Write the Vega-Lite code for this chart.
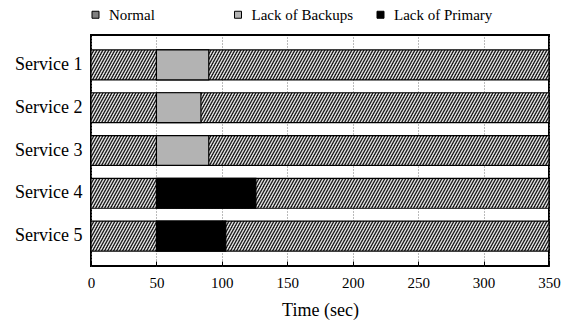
{
 "$schema": "https://vega.github.io/schema/vega-lite/v6.json",
 "width": 458,
 "height": 231,
 "autosize": {"type": "none"},
 "padding": {"left": 91, "top": 35, "right": 21, "bottom": 56},
 "background": "#ffffff",
 "config": {
  "font": "Liberation Serif",
  "view": {"stroke": "#000000", "strokeWidth": 2},
  "axis": {"labelColor": "#000000", "titleColor": "#000000", "labelFont": "Liberation Serif", "titleFont": "Liberation Serif", "titleFontWeight": "normal"},
  "legend": {"labelColor": "#000000", "labelFont": "Liberation Serif"}
 },
 "datasets": {
  "timeline": [
   {"service": "Service 1", "start": 0, "end": 350},
   {"service": "Service 2", "start": 0, "end": 350},
   {"service": "Service 3", "start": 0, "end": 350},
   {"service": "Service 4", "start": 0, "end": 350},
   {"service": "Service 5", "start": 0, "end": 350}
  ],
  "events": [
   {"service": "Service 1", "state": "Lack of Backups", "start": 50, "end": 90},
   {"service": "Service 2", "state": "Lack of Backups", "start": 50, "end": 84},
   {"service": "Service 3", "state": "Lack of Backups", "start": 50, "end": 90},
   {"service": "Service 4", "state": "Lack of Primary", "start": 50, "end": 126},
   {"service": "Service 5", "state": "Lack of Primary", "start": 50, "end": 103}
  ]
 },
 "layer": [
  {
   "data": {"name": "timeline"},
   "mark": {
    "type": "bar",
    "stroke": "#000000",
    "strokeWidth": 1.2,
    "fill": {
     "gradient": "linear", "x1": 0, "y1": 0, "x2": 1.0903, "y2": 0.0392,
     "stops": [
{"offset":0.000,"color":"#000"},{"offset":0.003,"color":"#fff"},{"offset":0.006,"color":"#000"},{"offset":0.009,"color":"#fff"},{"offset":0.012,"color":"#000"},{"offset":0.015,"color":"#fff"},{"offset":0.018,"color":"#000"},{"offset":0.021,"color":"#fff"},{"offset":0.024,"color":"#000"},{"offset":0.027,"color":"#fff"},
{"offset":0.030,"color":"#000"},{"offset":0.033,"color":"#fff"},{"offset":0.036,"color":"#000"},{"offset":0.039,"color":"#fff"},{"offset":0.042,"color":"#000"},{"offset":0.045,"color":"#fff"},{"offset":0.048,"color":"#000"},{"offset":0.051,"color":"#fff"},{"offset":0.054,"color":"#000"},{"offset":0.057,"color":"#fff"},
{"offset":0.060,"color":"#000"},{"offset":0.063,"color":"#fff"},{"offset":0.066,"color":"#000"},{"offset":0.069,"color":"#fff"},{"offset":0.072,"color":"#000"},{"offset":0.075,"color":"#fff"},{"offset":0.078,"color":"#000"},{"offset":0.081,"color":"#fff"},{"offset":0.084,"color":"#000"},{"offset":0.087,"color":"#fff"},
{"offset":0.090,"color":"#000"},{"offset":0.093,"color":"#fff"},{"offset":0.096,"color":"#000"},{"offset":0.099,"color":"#fff"},{"offset":0.102,"color":"#000"},{"offset":0.105,"color":"#fff"},{"offset":0.108,"color":"#000"},{"offset":0.111,"color":"#fff"},{"offset":0.114,"color":"#000"},{"offset":0.117,"color":"#fff"},
{"offset":0.120,"color":"#000"},{"offset":0.123,"color":"#fff"},{"offset":0.126,"color":"#000"},{"offset":0.129,"color":"#fff"},{"offset":0.132,"color":"#000"},{"offset":0.135,"color":"#fff"},{"offset":0.138,"color":"#000"},{"offset":0.141,"color":"#fff"},{"offset":0.144,"color":"#000"},{"offset":0.147,"color":"#fff"},
{"offset":0.150,"color":"#000"},{"offset":0.153,"color":"#fff"},{"offset":0.156,"color":"#000"},{"offset":0.159,"color":"#fff"},{"offset":0.162,"color":"#000"},{"offset":0.165,"color":"#fff"},{"offset":0.168,"color":"#000"},{"offset":0.171,"color":"#fff"},{"offset":0.174,"color":"#000"},{"offset":0.177,"color":"#fff"},
{"offset":0.180,"color":"#000"},{"offset":0.183,"color":"#fff"},{"offset":0.186,"color":"#000"},{"offset":0.189,"color":"#fff"},{"offset":0.192,"color":"#000"},{"offset":0.195,"color":"#fff"},{"offset":0.198,"color":"#000"},{"offset":0.201,"color":"#fff"},{"offset":0.204,"color":"#000"},{"offset":0.207,"color":"#fff"},
{"offset":0.210,"color":"#000"},{"offset":0.213,"color":"#fff"},{"offset":0.216,"color":"#000"},{"offset":0.219,"color":"#fff"},{"offset":0.222,"color":"#000"},{"offset":0.225,"color":"#fff"},{"offset":0.228,"color":"#000"},{"offset":0.231,"color":"#fff"},{"offset":0.234,"color":"#000"},{"offset":0.237,"color":"#fff"},
{"offset":0.240,"color":"#000"},{"offset":0.243,"color":"#fff"},{"offset":0.246,"color":"#000"},{"offset":0.249,"color":"#fff"},{"offset":0.252,"color":"#000"},{"offset":0.255,"color":"#fff"},{"offset":0.258,"color":"#000"},{"offset":0.261,"color":"#fff"},{"offset":0.264,"color":"#000"},{"offset":0.267,"color":"#fff"},
{"offset":0.270,"color":"#000"},{"offset":0.273,"color":"#fff"},{"offset":0.276,"color":"#000"},{"offset":0.279,"color":"#fff"},{"offset":0.282,"color":"#000"},{"offset":0.285,"color":"#fff"},{"offset":0.288,"color":"#000"},{"offset":0.291,"color":"#fff"},{"offset":0.294,"color":"#000"},{"offset":0.297,"color":"#fff"},
{"offset":0.300,"color":"#000"},{"offset":0.303,"color":"#fff"},{"offset":0.306,"color":"#000"},{"offset":0.309,"color":"#fff"},{"offset":0.312,"color":"#000"},{"offset":0.315,"color":"#fff"},{"offset":0.318,"color":"#000"},{"offset":0.321,"color":"#fff"},{"offset":0.324,"color":"#000"},{"offset":0.327,"color":"#fff"},
{"offset":0.330,"color":"#000"},{"offset":0.333,"color":"#fff"},{"offset":0.336,"color":"#000"},{"offset":0.339,"color":"#fff"},{"offset":0.342,"color":"#000"},{"offset":0.345,"color":"#fff"},{"offset":0.348,"color":"#000"},{"offset":0.351,"color":"#fff"},{"offset":0.354,"color":"#000"},{"offset":0.357,"color":"#fff"},
{"offset":0.360,"color":"#000"},{"offset":0.363,"color":"#fff"},{"offset":0.366,"color":"#000"},{"offset":0.369,"color":"#fff"},{"offset":0.372,"color":"#000"},{"offset":0.375,"color":"#fff"},{"offset":0.378,"color":"#000"},{"offset":0.381,"color":"#fff"},{"offset":0.384,"color":"#000"},{"offset":0.387,"color":"#fff"},
{"offset":0.390,"color":"#000"},{"offset":0.393,"color":"#fff"},{"offset":0.396,"color":"#000"},{"offset":0.399,"color":"#fff"},{"offset":0.402,"color":"#000"},{"offset":0.405,"color":"#fff"},{"offset":0.408,"color":"#000"},{"offset":0.411,"color":"#fff"},{"offset":0.414,"color":"#000"},{"offset":0.417,"color":"#fff"},
{"offset":0.420,"color":"#000"},{"offset":0.423,"color":"#fff"},{"offset":0.426,"color":"#000"},{"offset":0.429,"color":"#fff"},{"offset":0.432,"color":"#000"},{"offset":0.435,"color":"#fff"},{"offset":0.438,"color":"#000"},{"offset":0.441,"color":"#fff"},{"offset":0.444,"color":"#000"},{"offset":0.447,"color":"#fff"},
{"offset":0.450,"color":"#000"},{"offset":0.453,"color":"#fff"},{"offset":0.456,"color":"#000"},{"offset":0.459,"color":"#fff"},{"offset":0.462,"color":"#000"},{"offset":0.465,"color":"#fff"},{"offset":0.468,"color":"#000"},{"offset":0.471,"color":"#fff"},{"offset":0.474,"color":"#000"},{"offset":0.477,"color":"#fff"},
{"offset":0.480,"color":"#000"},{"offset":0.483,"color":"#fff"},{"offset":0.486,"color":"#000"},{"offset":0.489,"color":"#fff"},{"offset":0.492,"color":"#000"},{"offset":0.495,"color":"#fff"},{"offset":0.498,"color":"#000"},{"offset":0.501,"color":"#fff"},{"offset":0.504,"color":"#000"},{"offset":0.507,"color":"#fff"},
{"offset":0.510,"color":"#000"},{"offset":0.513,"color":"#fff"},{"offset":0.516,"color":"#000"},{"offset":0.519,"color":"#fff"},{"offset":0.522,"color":"#000"},{"offset":0.525,"color":"#fff"},{"offset":0.528,"color":"#000"},{"offset":0.531,"color":"#fff"},{"offset":0.534,"color":"#000"},{"offset":0.537,"color":"#fff"},
{"offset":0.540,"color":"#000"},{"offset":0.543,"color":"#fff"},{"offset":0.546,"color":"#000"},{"offset":0.549,"color":"#fff"},{"offset":0.552,"color":"#000"},{"offset":0.555,"color":"#fff"},{"offset":0.558,"color":"#000"},{"offset":0.561,"color":"#fff"},{"offset":0.564,"color":"#000"},{"offset":0.567,"color":"#fff"},
{"offset":0.570,"color":"#000"},{"offset":0.573,"color":"#fff"},{"offset":0.576,"color":"#000"},{"offset":0.579,"color":"#fff"},{"offset":0.582,"color":"#000"},{"offset":0.585,"color":"#fff"},{"offset":0.588,"color":"#000"},{"offset":0.591,"color":"#fff"},{"offset":0.594,"color":"#000"},{"offset":0.597,"color":"#fff"},
{"offset":0.600,"color":"#000"},{"offset":0.603,"color":"#fff"},{"offset":0.606,"color":"#000"},{"offset":0.609,"color":"#fff"},{"offset":0.612,"color":"#000"},{"offset":0.615,"color":"#fff"},{"offset":0.618,"color":"#000"},{"offset":0.621,"color":"#fff"},{"offset":0.624,"color":"#000"},{"offset":0.627,"color":"#fff"},
{"offset":0.630,"color":"#000"},{"offset":0.633,"color":"#fff"},{"offset":0.636,"color":"#000"},{"offset":0.639,"color":"#fff"},{"offset":0.642,"color":"#000"},{"offset":0.645,"color":"#fff"},{"offset":0.648,"color":"#000"},{"offset":0.651,"color":"#fff"},{"offset":0.654,"color":"#000"},{"offset":0.657,"color":"#fff"},
{"offset":0.660,"color":"#000"},{"offset":0.663,"color":"#fff"},{"offset":0.666,"color":"#000"},{"offset":0.669,"color":"#fff"},{"offset":0.672,"color":"#000"},{"offset":0.675,"color":"#fff"},{"offset":0.678,"color":"#000"},{"offset":0.681,"color":"#fff"},{"offset":0.684,"color":"#000"},{"offset":0.687,"color":"#fff"},
{"offset":0.690,"color":"#000"},{"offset":0.693,"color":"#fff"},{"offset":0.696,"color":"#000"},{"offset":0.699,"color":"#fff"},{"offset":0.702,"color":"#000"},{"offset":0.705,"color":"#fff"},{"offset":0.708,"color":"#000"},{"offset":0.711,"color":"#fff"},{"offset":0.714,"color":"#000"},{"offset":0.717,"color":"#fff"},
{"offset":0.720,"color":"#000"},{"offset":0.723,"color":"#fff"},{"offset":0.726,"color":"#000"},{"offset":0.729,"color":"#fff"},{"offset":0.732,"color":"#000"},{"offset":0.735,"color":"#fff"},{"offset":0.738,"color":"#000"},{"offset":0.741,"color":"#fff"},{"offset":0.744,"color":"#000"},{"offset":0.747,"color":"#fff"},
{"offset":0.750,"color":"#000"},{"offset":0.753,"color":"#fff"},{"offset":0.756,"color":"#000"},{"offset":0.759,"color":"#fff"},{"offset":0.762,"color":"#000"},{"offset":0.765,"color":"#fff"},{"offset":0.768,"color":"#000"},{"offset":0.771,"color":"#fff"},{"offset":0.774,"color":"#000"},{"offset":0.777,"color":"#fff"},
{"offset":0.780,"color":"#000"},{"offset":0.783,"color":"#fff"},{"offset":0.786,"color":"#000"},{"offset":0.789,"color":"#fff"},{"offset":0.792,"color":"#000"},{"offset":0.795,"color":"#fff"},{"offset":0.798,"color":"#000"},{"offset":0.801,"color":"#fff"},{"offset":0.804,"color":"#000"},{"offset":0.807,"color":"#fff"},
{"offset":0.810,"color":"#000"},{"offset":0.813,"color":"#fff"},{"offset":0.816,"color":"#000"},{"offset":0.819,"color":"#fff"},{"offset":0.822,"color":"#000"},{"offset":0.825,"color":"#fff"},{"offset":0.828,"color":"#000"},{"offset":0.831,"color":"#fff"},{"offset":0.834,"color":"#000"},{"offset":0.837,"color":"#fff"},
{"offset":0.840,"color":"#000"},{"offset":0.843,"color":"#fff"},{"offset":0.846,"color":"#000"},{"offset":0.849,"color":"#fff"},{"offset":0.852,"color":"#000"},{"offset":0.855,"color":"#fff"},{"offset":0.858,"color":"#000"},{"offset":0.861,"color":"#fff"},{"offset":0.864,"color":"#000"},{"offset":0.867,"color":"#fff"},
{"offset":0.870,"color":"#000"},{"offset":0.873,"color":"#fff"},{"offset":0.876,"color":"#000"},{"offset":0.879,"color":"#fff"},{"offset":0.882,"color":"#000"},{"offset":0.885,"color":"#fff"},{"offset":0.888,"color":"#000"},{"offset":0.891,"color":"#fff"},{"offset":0.894,"color":"#000"},{"offset":0.897,"color":"#fff"},
{"offset":0.900,"color":"#000"},{"offset":0.903,"color":"#fff"},{"offset":0.906,"color":"#000"},{"offset":0.909,"color":"#fff"},{"offset":0.912,"color":"#000"},{"offset":0.915,"color":"#fff"},{"offset":0.918,"color":"#000"},{"offset":0.921,"color":"#fff"},{"offset":0.924,"color":"#000"},{"offset":0.927,"color":"#fff"},
{"offset":0.930,"color":"#000"},{"offset":0.933,"color":"#fff"},{"offset":0.936,"color":"#000"},{"offset":0.939,"color":"#fff"},{"offset":0.942,"color":"#000"},{"offset":0.945,"color":"#fff"},{"offset":0.948,"color":"#000"},{"offset":0.951,"color":"#fff"}
     ]
    }
   },
   "encoding": {
    "y": {
     "field": "service", "type": "nominal",
     "scale": {"domain": ["Service 1", "Service 2", "Service 3", "Service 4", "Service 5"], "paddingInner": 0.3, "paddingOuter": 0.35},
     "axis": {"title": null, "domain": false, "ticks": false, "labelPadding": 9, "labelFontSize": 18, "labelColor": "#000000"}
    },
    "x": {
     "field": "start", "type": "quantitative",
     "scale": {"domain": [0, 350], "nice": false, "zero": false},
     "axis": {"orient": "bottom", "values": [0, 50, 100, 150, 200, 250, 300, 350], "grid": true, "gridDash": [1, 2], "gridColor": "#777777", "gridWidth": 1, "domain": false, "tickSize": -5, "tickColor": "#000000", "tickWidth": 1, "labelPadding": 14, "labelFontSize": 15, "labelFlush": false, "title": "Time (sec)", "titleFontSize": 18, "titlePadding": 11}
    },
    "x2": {"field": "end"}
   }
  },
  {
   "data": {"name": "events"},
   "mark": {"type": "bar", "stroke": "#000000", "strokeWidth": 1.2},
   "encoding": {
    "y": {"field": "service", "type": "nominal"},
    "x": {"field": "start", "type": "quantitative"},
    "x2": {"field": "end"},
    "color": {
     "field": "state", "type": "nominal",
     "scale": {"domain": ["Normal", "Lack of Backups", "Lack of Primary"], "range": ["#808080", "#b3b3b3", "#000000"]},
     "legend": {
      "title": null, "orient": "none", "legendX": -3, "legendY": -28, "direction": "horizontal",
      "symbolType": "square", "symbolSize": 49, "symbolStrokeColor": "#000000", "symbolStrokeWidth": 1,
      "labelFontSize": 15, "labelOffset": 6, "columnPadding": 19.5, "gridAlign": "all", "padding": 0
     }
    }
   }
  }
 ]
}
